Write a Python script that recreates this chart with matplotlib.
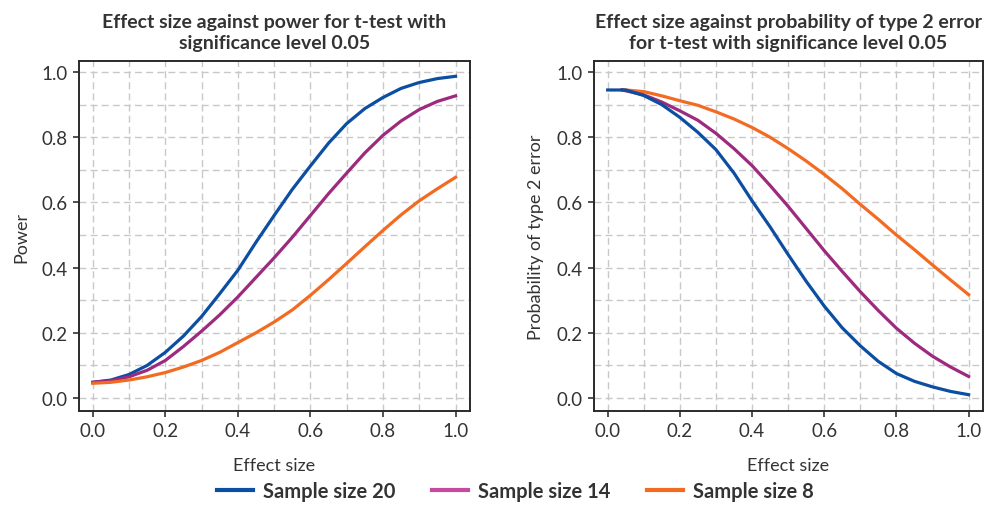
import matplotlib
matplotlib.use("Agg")
import matplotlib.pyplot as plt
from matplotlib.lines import Line2D
from matplotlib.ticker import MultipleLocator

plt.rcParams['font.family'] = ['Lato', 'DejaVu Sans']

# ---- data ----
effect = [0.0, 0.05, 0.1, 0.15, 0.2, 0.25, 0.3, 0.35, 0.4, 0.45, 0.5,
          0.55, 0.6, 0.65, 0.7, 0.75, 0.8, 0.85, 0.9, 0.95, 1.0]

power_20 = [0.048, 0.055, 0.072, 0.100, 0.140, 0.190, 0.250, 0.320, 0.392, 0.478, 0.560,
            0.640, 0.712, 0.782, 0.842, 0.888, 0.922, 0.950, 0.968, 0.980, 0.987]
power_14 = [0.048, 0.053, 0.065, 0.085, 0.115, 0.158, 0.205, 0.255, 0.310, 0.370, 0.430,
            0.493, 0.560, 0.627, 0.690, 0.752, 0.806, 0.850, 0.885, 0.910, 0.927]
power_8 = [0.045, 0.048, 0.055, 0.065, 0.078, 0.095, 0.115, 0.140, 0.170, 0.200, 0.233,
           0.270, 0.315, 0.363, 0.413, 0.464, 0.514, 0.562, 0.605, 0.642, 0.677]

effect_b20 = [0.0, 0.05, 0.1, 0.15, 0.2, 0.25, 0.3, 0.35, 0.4, 0.45, 0.5,
              0.55, 0.6, 0.65, 0.7, 0.75, 0.8, 0.85, 0.9, 0.95, 1.0]
beta_20 = [0.945, 0.945, 0.928, 0.900, 0.861, 0.815, 0.762, 0.690, 0.605, 0.525, 0.440,
           0.358, 0.282, 0.215, 0.160, 0.112, 0.075, 0.051, 0.034, 0.020, 0.010]
effect_b = [0.04, 0.1, 0.15, 0.2, 0.25, 0.3, 0.35, 0.4, 0.45, 0.5,
            0.55, 0.6, 0.65, 0.7, 0.75, 0.8, 0.85, 0.9, 0.95, 1.0]
beta_14 = [0.945, 0.930, 0.908, 0.881, 0.852, 0.812, 0.765, 0.713, 0.652, 0.588,
           0.520, 0.452, 0.388, 0.326, 0.268, 0.214, 0.168, 0.128, 0.095, 0.066]
beta_8 = [0.946, 0.940, 0.927, 0.912, 0.898, 0.878, 0.856, 0.830, 0.800, 0.765,
          0.727, 0.686, 0.642, 0.594, 0.548, 0.500, 0.455, 0.408, 0.362, 0.317]

labels = ['Sample size 20', 'Sample size 14', 'Sample size 8']
line_colors = ['#0b4ea2', '#9c2a7e', '#f26b21']
legend_colors = ['#0b4ea2', '#c64b9f', '#f26b21']

titles = ['Effect size against power for t-test with\nsignificance level 0.05',
          'Effect size against probability of type 2 error\nfor t-test with significance level 0.05']
ylabels = ['Power', 'Probability of type 2 error']
xlabel = 'Effect size'

fig = plt.figure(figsize=(9.85, 5.06), dpi=100)
ax1 = fig.add_axes([0.0802, 0.1858, 0.397, 0.6917])
ax2 = fig.add_axes([0.603, 0.1858, 0.395, 0.6917])

lw = 2.3
ax1.plot(effect, power_20, color=line_colors[0], lw=lw)
ax1.plot(effect, power_14, color=line_colors[1], lw=lw)
ax1.plot(effect, power_8, color=line_colors[2], lw=lw)

ax2.plot(effect_b, beta_8, color=line_colors[2], lw=lw)
ax2.plot(effect_b, beta_14, color=line_colors[1], lw=lw)
ax2.plot(effect_b20, beta_20, color=line_colors[0], lw=lw)

for ax, t, yl in zip([ax1, ax2], titles, ylabels):
    ax.set_xlim(-0.038, 1.04)
    ax.set_ylim(-0.04, 1.034)
    ax.xaxis.set_major_locator(MultipleLocator(0.2))
    ax.yaxis.set_major_locator(MultipleLocator(0.2))
    ax.xaxis.set_minor_locator(MultipleLocator(0.1))
    ax.yaxis.set_minor_locator(MultipleLocator(0.1))
    ax.xaxis.set_major_formatter(plt.FormatStrFormatter('%.1f'))
    ax.yaxis.set_major_formatter(plt.FormatStrFormatter('%.1f'))
    ax.grid(which='both', color='#c8c8c8', linestyle=(0, (5, 3)), linewidth=1.0)
    ax.set_axisbelow(True)
    ax.tick_params(which='major', direction='out', length=4, width=1.2,
                   color='#333333', labelsize=13.5, labelcolor='#333333', pad=4)
    ax.tick_params(which='minor', length=0)
    for s in ax.spines.values():
        s.set_linewidth(1.4)
        s.set_color('#2a2a2a')
    ax.set_title(t, fontsize=14, fontweight='bold', color='#333333', pad=9, linespacing=1.3)
    ax.set_ylabel(yl, fontsize=13, color='#333333', labelpad=9)
    ax.set_xlabel(xlabel, fontsize=13, color='#333333', labelpad=13)

handles = [Line2D([0], [0], color=c, lw=3) for c in legend_colors]
fig.legend(handles, labels, loc='lower center', bbox_to_anchor=(0.523, -0.028), ncol=3,
           frameon=False, handlelength=1.8, columnspacing=1.8, handletextpad=0.5,
           prop={'family': ['Lato', 'DejaVu Sans'], 'weight': 'bold', 'size': 14.5},
           labelcolor='#333333')

fig.savefig('out.png', dpi=100)
